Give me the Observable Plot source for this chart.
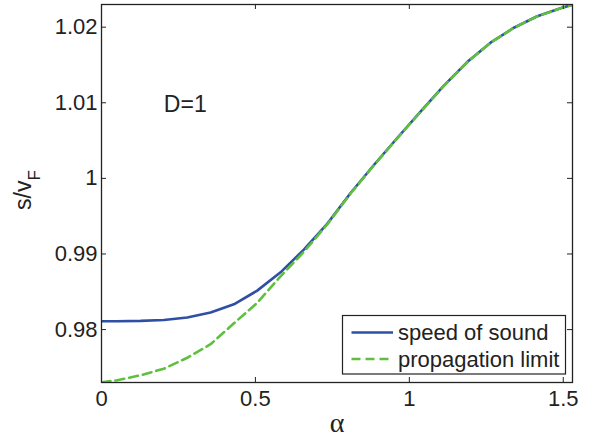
<!DOCTYPE html>
<html>
<head>
<meta charset="utf-8">
<script src="https://cdn.jsdelivr.net/npm/d3@7"></script>
<script src="https://cdn.jsdelivr.net/npm/@observablehq/plot@0.6"></script>
<style>
  html, body { margin: 0; padding: 0; background: #fff; }
  #chart { width: 591px; height: 437px; }
</style>
</head>
<body>
<div id="chart"></div>
<script>
// ---- data ----
const alpha = [0, 0.051, 0.127, 0.2025, 0.2786, 0.3544, 0.4301, 0.5059, 0.5816, 0.6573, 0.7331, 0.8092, 0.8849, 0.9607, 1.0364, 1.1122, 1.1879, 1.2637, 1.3397, 1.4155, 1.4912, 1.53];
const speedOfSound = [0.98110, 0.98110, 0.98115, 0.98127, 0.98159, 0.98225, 0.98334, 0.98515, 0.98757, 0.99057, 0.99398, 0.99807, 1.00177, 1.00534, 1.00884, 1.01227, 1.01538, 1.01795, 1.01993, 1.02145, 1.02251, 1.02297];
const propagationLimit = [0.97302, 0.97330, 0.97396, 0.97482, 0.97627, 0.97806, 0.98083, 0.98354, 0.98705, 0.99028, 0.99390, 0.99800, 1.00172, 1.00530, 1.00880, 1.01224, 1.01536, 1.01793, 1.01992, 1.02144, 1.02250, 1.02297];
const xTicks = [0, 0.5, 1, 1.5];
const yTicks = [0.98, 0.99, 1, 1.01, 1.02];
const seriesNames = ["speed of sound", "propagation limit"];
const annotation = [{a: 0.2025, v: 1.00876, label: "D=1"}];

// ---- build ----
const W = 591, H = 437;
const mL = 101, mR = 19, mT = 4, mB = 55;
const innerH = H - mT - mB;
const innerW = W - mL - mR;
const blue = "#2e4fa3", green = "#5fc03f", ink = "#222";
const sans = "'Liberation Sans', Arial, Helvetica, sans-serif";

const blueData = alpha.map((a, i) => ({a, v: speedOfSound[i]}));
const greenData = alpha.map((a, i) => ({a, v: propagationLimit[i]}));

const chart = Plot.plot({
  width: W, height: H,
  marginLeft: mL, marginRight: mR, marginTop: mT, marginBottom: mB,
  style: {fontFamily: sans, fontSize: "22px", color: ink, background: "#fff", overflow: "visible"},
  x: {domain: [0, 1.53]},
  y: {domain: [0.9730, 1.0230]},
  marks: [
    Plot.line(blueData, {x: "a", y: "v", stroke: blue, strokeWidth: 2.6, clip: true}),
    Plot.line(greenData, {x: "a", y: "v", stroke: green, strokeWidth: 2.6, strokeDasharray: "9,5", clip: true}),
    Plot.frame({stroke: ink, strokeWidth: 1.3}),
    Plot.tickX(xTicks, {x: d => d, insetTop: innerH - 5, stroke: ink, strokeWidth: 1}),
    Plot.tickX(xTicks, {x: d => d, insetBottom: innerH - 5, stroke: ink, strokeWidth: 1}),
    Plot.tickY(yTicks, {y: d => d, insetRight: innerW - 5, stroke: ink, strokeWidth: 1}),
    Plot.tickY(yTicks, {y: d => d, insetLeft: innerW - 5, stroke: ink, strokeWidth: 1}),
    Plot.axisX(xTicks, {tickSize: 0, tickPadding: 8, label: null, fontSize: 22, tickFormat: d3.format("~g")}),
    Plot.axisY(yTicks, {tickSize: 0, tickPadding: 4, label: null, fontSize: 22, tickFormat: d3.format("~g")}),
    Plot.text(annotation, {x: "a", y: "v", text: "label", textAnchor: "start", lineAnchor: "bottom", fontSize: 23, fill: ink}),
    Plot.text(["α"], {frameAnchor: "bottom", dy: 41, lineAnchor: "middle", fontSize: 28, fontFamily: "'Liberation Serif', 'DejaVu Serif', serif", fill: ink})
  ]
});
document.getElementById("chart").appendChild(chart);

const svg = d3.select(chart);

// y label with subscript
const yl = svg.append("text")
  .attr("transform", `translate(31, ${(mT + H - mB) / 2 - 3}) rotate(-90)`)
  .attr("text-anchor", "middle")
  .attr("font-family", sans)
  .attr("font-size", 23)
  .attr("fill", ink);
yl.append("tspan").text("s/v");
yl.append("tspan").attr("font-size", 17).attr("dy", 9).text("F");

// legend
const lg = svg.append("g").attr("text-anchor", "start");
lg.append("rect")
  .attr("x", 342.5).attr("y", 315.5).attr("width", 223).attr("height", 58.5)
  .attr("fill", "#fff").attr("stroke", ink).attr("stroke-width", 1.2);
const rows = [
  {name: seriesNames[0], color: blue, dash: null, y: 332.5},
  {name: seriesNames[1], color: green, dash: "9,5", y: 359}
];
rows.forEach(r => {
  lg.append("line")
    .attr("x1", 351.5).attr("x2", 393).attr("y1", r.y).attr("y2", r.y)
    .attr("stroke", r.color).attr("stroke-width", 2.6)
    .attr("stroke-dasharray", r.dash);
  lg.append("text")
    .attr("x", 398).attr("y", r.y).attr("dy", "0.35em")
    .attr("text-anchor", "start")
    .attr("font-family", sans).attr("font-size", 22).attr("fill", ink)
    .text(r.name);
});
</script>
</body>
</html>
